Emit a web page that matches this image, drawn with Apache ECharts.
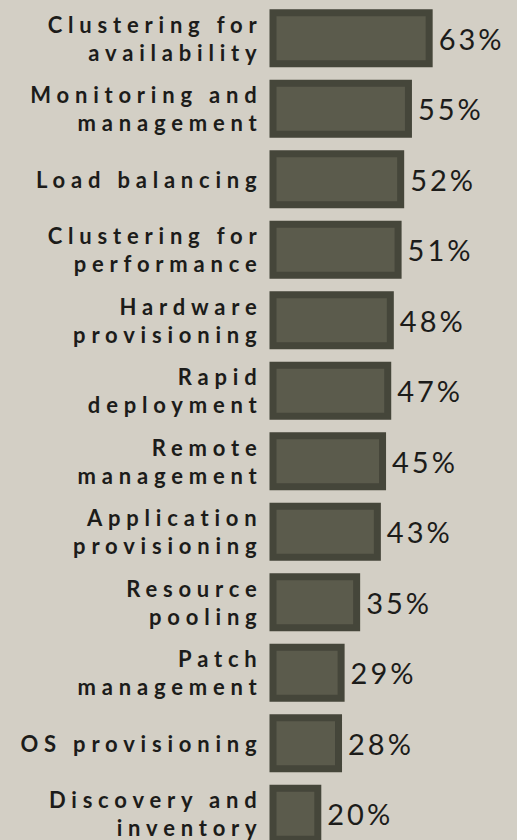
<!DOCTYPE html>
<html>
<head>
<meta charset="utf-8">
<script src="https://cdn.jsdelivr.net/npm/echarts@6/dist/echarts.min.js"></script>
<style>
  html, body { margin: 0; padding: 0; background: #d3cfc5; overflow: hidden; }
  #chart { width: 517px; height: 840px; }
  #chart svg text[style*="bold"] { letter-spacing: 5.8px; }
  #chart svg text:not([style*="bold"]) { letter-spacing: 3px; }
</style>
</head>
<body>
<div id="chart"></div>
<script>
const categories = [
  'Clustering for\navailability',
  'Monitoring and\nmanagement',
  'Load balancing',
  'Clustering for\nperformance',
  'Hardware\nprovisioning',
  'Rapid\ndeployment',
  'Remote\nmanagement',
  'Application\nprovisioning',
  'Resource\npooling',
  'Patch\nmanagement',
  'OS provisioning',
  'Discovery and\ninventory'
];
const values = [63, 55, 52, 51, 48, 47, 45, 43, 35, 29, 28, 20];

const chart = echarts.init(document.getElementById('chart'), null, { renderer: 'svg' });
chart.setOption({
  backgroundColor: '#d3cfc5',
  animation: false,
  grid: { left: 269.5, top: 3, width: 259, height: 846, containLabel: false, outerBoundsMode: 'none' },
  xAxis: {
    type: 'value', min: 0, max: 100, show: false
  },
  yAxis: {
    type: 'category', data: categories, inverse: true,
    axisLine: { show: false }, axisTick: { show: false }, splitLine: { show: false },
    axisLabel: {
      margin: 7,
      align: 'right',
      color: '#1c1c1a',
      fontFamily: 'Lato',
      fontWeight: 'bold',
      fontSize: 22,
      lineHeight: 28
    }
  },
  series: [{
    type: 'bar',
    data: values,
    barWidth: 58,
    itemStyle: {
      color: '#5b5b4c',
      borderColor: '#45463a',
      borderWidth: 7
    },
    label: {
      show: true,
      position: 'right',
      distance: 6,
      formatter: '{c}%',
      color: '#1c1c1a',
      fontFamily: 'Lato',
      fontSize: 29
    }
  }]
});
</script>
</body>
</html>
